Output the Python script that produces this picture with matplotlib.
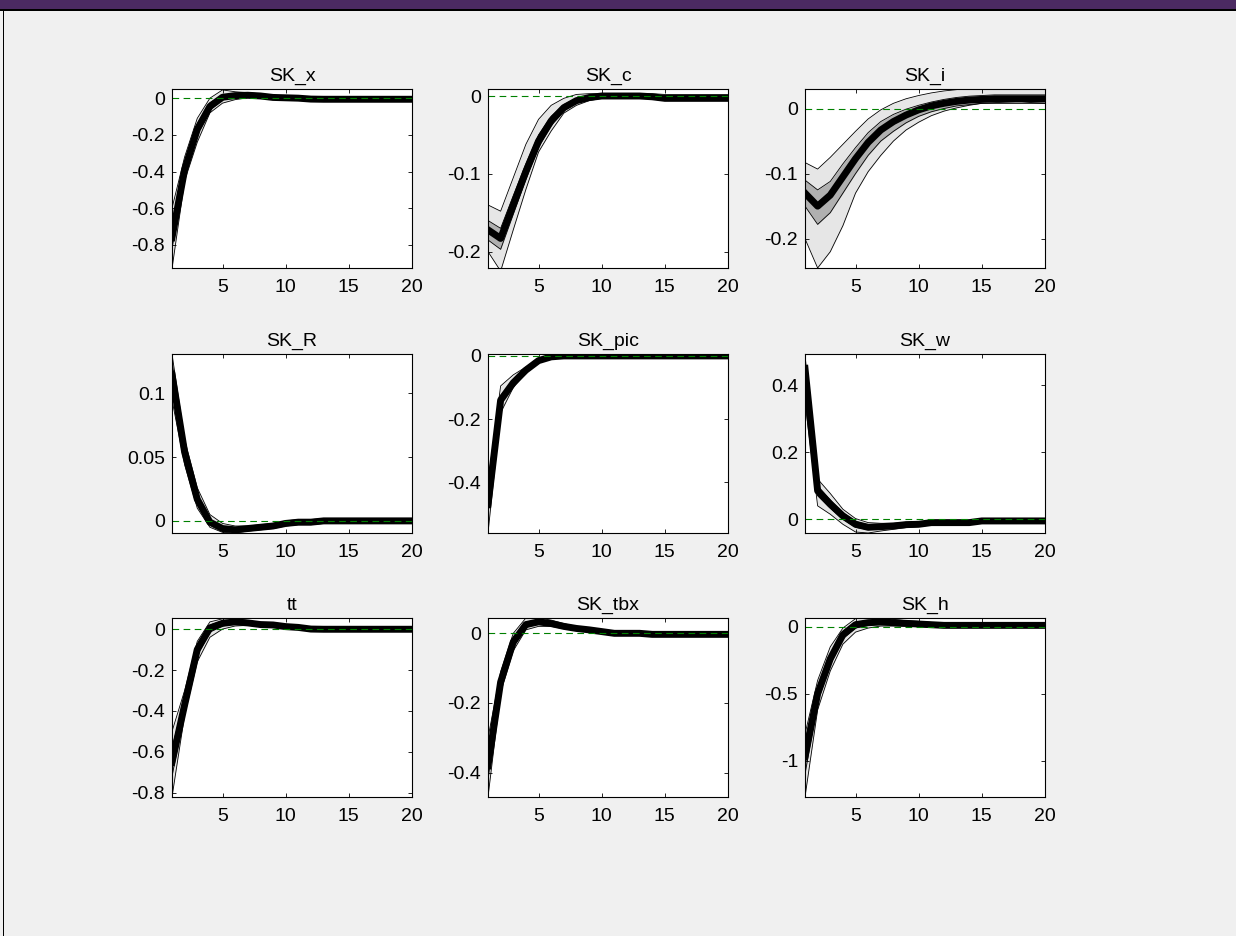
import matplotlib
matplotlib.use("Agg")
import matplotlib.pyplot as plt
import numpy as np

plt.rcParams['font.family'] = ['Liberation Sans', 'DejaVu Sans']
plt.rcParams['axes.unicode_minus'] = False

horizon = np.arange(1, 21)

titles = ["SK_x", "SK_c", "SK_i", "SK_R", "SK_pic", "SK_w", "tt", "SK_tbx", "SK_h"]

# median responses and error bands (inner / outer)
SK_x_med = [-0.76, -0.39, -0.17, -0.045, 0.005, 0.014, 0.016, 0.012, 0.004, 0.002, 0.0, -0.005, -0.006, -0.006, -0.006, -0.006, -0.006, -0.006, -0.006, -0.006]
SK_x_in_lo = [-0.82, -0.43, -0.2, -0.065, -0.008, 0.006, 0.01, 0.007, 0.0, -0.002, -0.004, -0.009, -0.01, -0.01, -0.01, -0.01, -0.01, -0.01, -0.01, -0.01]
SK_x_in_hi = [-0.7, -0.35, -0.14, -0.025, 0.015, 0.02, 0.021, 0.017, 0.008, 0.006, 0.004, -0.001, -0.002, -0.002, -0.002, -0.002, -0.002, -0.002, -0.002, -0.002]
SK_x_out_lo = [-0.93, -0.45, -0.24, -0.08, -0.027, -0.008, 0.002, 0.002, -0.004, -0.006, -0.008, -0.013, -0.014, -0.014, -0.014, -0.014, -0.014, -0.014, -0.014, -0.014]
SK_x_out_hi = [-0.6, -0.32, -0.11, 0.0, 0.045, 0.035, 0.03, 0.024, 0.013, 0.01, 0.008, 0.003, 0.002, 0.002, 0.002, 0.002, 0.002, 0.002, 0.002, 0.002]

SK_c_med = [-0.172, -0.183, -0.14, -0.097, -0.058, -0.032, -0.015, -0.006, -0.002, 0.0, 0.0, 0.0, 0.0, -0.001, -0.003, -0.003, -0.003, -0.003, -0.003, -0.003]
SK_c_in_lo = [-0.185, -0.197, -0.152, -0.107, -0.066, -0.038, -0.019, -0.009, -0.004, -0.002, -0.002, -0.002, -0.002, -0.003, -0.005, -0.005, -0.005, -0.005, -0.005, -0.005]
SK_c_in_hi = [-0.16, -0.17, -0.128, -0.087, -0.05, -0.026, -0.011, -0.003, 0.0, 0.002, 0.002, 0.002, 0.002, 0.001, -0.001, -0.001, -0.001, -0.001, -0.001, -0.001]
SK_c_out_lo = [-0.2, -0.225, -0.172, -0.12, -0.072, -0.045, -0.022, -0.012, -0.006, -0.003, -0.003, -0.003, -0.003, -0.004, -0.006, -0.006, -0.006, -0.006, -0.006, -0.006]
SK_c_out_hi = [-0.14, -0.148, -0.105, -0.062, -0.03, -0.012, -0.003, 0.002, 0.003, 0.003, 0.003, 0.003, 0.003, 0.003, 0.002, 0.002, 0.002, 0.002, 0.002, 0.002]

SK_i_med = [-0.13, -0.15, -0.133, -0.105, -0.077, -0.052, -0.033, -0.02, -0.01, -0.002, 0.004, 0.008, 0.011, 0.013, 0.014, 0.015, 0.015, 0.015, 0.015, 0.015]
SK_i_in_lo = [-0.15, -0.178, -0.16, -0.13, -0.1, -0.072, -0.05, -0.035, -0.022, -0.012, -0.005, 0.0, 0.004, 0.006, 0.008, 0.008, 0.008, 0.008, 0.008, 0.008]
SK_i_in_hi = [-0.11, -0.125, -0.112, -0.085, -0.06, -0.037, -0.02, -0.009, -0.001, 0.005, 0.01, 0.014, 0.017, 0.019, 0.02, 0.021, 0.021, 0.021, 0.021, 0.021]
SK_i_out_lo = [-0.2, -0.245, -0.22, -0.18, -0.13, -0.097, -0.072, -0.05, -0.033, -0.021, -0.011, -0.004, 0.001, 0.005, 0.008, 0.009, 0.01, 0.011, 0.009, 0.008]
SK_i_out_hi = [-0.083, -0.093, -0.075, -0.055, -0.035, -0.016, -0.002, 0.008, 0.015, 0.02, 0.024, 0.027, 0.029, 0.031, 0.032, 0.032, 0.032, 0.032, 0.032, 0.032]

SK_R_med = [0.115, 0.054, 0.017, -0.001, -0.006, -0.007, -0.006, -0.005, -0.004, -0.002, -0.001, -0.001, 0.0, 0.0, 0.0, 0.0, 0.0, 0.0, 0.0, 0.0]
SK_R_in_lo = [0.105, 0.048, 0.013, -0.003, -0.0075, -0.008, -0.007, -0.006, -0.005, -0.003, -0.002, -0.002, -0.001, -0.001, -0.001, -0.001, -0.001, -0.001, -0.001, -0.001]
SK_R_in_hi = [0.125, 0.06, 0.021, 0.001, -0.0045, -0.006, -0.005, -0.004, -0.003, -0.001, 0.0, 0.0, 0.001, 0.001, 0.001, 0.001, 0.001, 0.001, 0.001, 0.001]
SK_R_out_lo = [0.095, 0.044, 0.01, -0.005, -0.009, -0.0095, -0.008, -0.007, -0.006, -0.004, -0.003, -0.003, -0.002, -0.002, -0.002, -0.002, -0.002, -0.002, -0.002, -0.002]
SK_R_out_hi = [0.131, 0.064, 0.026, 0.005, -0.002, -0.004, -0.004, -0.003, -0.002, 0.0, 0.001, 0.001, 0.002, 0.002, 0.002, 0.002, 0.002, 0.002, 0.002, 0.002]

SK_pic_med = [-0.47, -0.14, -0.085, -0.045, -0.015, -0.003, 0.0, 0.0, 0.0, 0.0, 0.0, 0.0, 0.0, 0.0, 0.0, 0.0, 0.0, 0.0, 0.0, 0.0]
SK_pic_in_lo = [-0.5, -0.155, -0.09, -0.05, -0.018, -0.004, -0.001, 0.0, 0.0, 0.0, 0.0, 0.0, 0.0, 0.0, 0.0, 0.0, 0.0, 0.0, 0.0, 0.0]
SK_pic_in_hi = [-0.44, -0.125, -0.078, -0.04, -0.012, -0.002, 0.0, 0.0, 0.0, 0.0, 0.0, 0.0, 0.0, 0.0, 0.0, 0.0, 0.0, 0.0, 0.0, 0.0]
SK_pic_out_lo = [-0.56, -0.18, -0.1, -0.055, -0.022, -0.006, -0.001, 0.0, 0.0, 0.0, 0.0, 0.0, 0.0, 0.0, 0.0, 0.0, 0.0, 0.0, 0.0, 0.0]
SK_pic_out_hi = [-0.4, -0.095, -0.06, -0.035, -0.01, -0.001, 0.0, 0.0, 0.0, 0.0, 0.0, 0.0, 0.0, 0.0, 0.0, 0.0, 0.0, 0.0, 0.0, 0.0]

SK_w_med = [0.45, 0.085, 0.045, 0.01, -0.015, -0.024, -0.022, -0.02, -0.016, -0.015, -0.01, -0.01, -0.01, -0.01, -0.005, -0.005, -0.005, -0.005, -0.005, -0.005]
SK_w_in_lo = [0.41, 0.07, 0.033, 0.0, -0.024, -0.031, -0.028, -0.025, -0.02, -0.019, -0.014, -0.013, -0.013, -0.013, -0.008, -0.008, -0.008, -0.008, -0.008, -0.008]
SK_w_in_hi = [0.48, 0.1, 0.058, 0.02, -0.006, -0.017, -0.016, -0.015, -0.012, -0.011, -0.006, -0.007, -0.007, -0.007, -0.002, -0.002, -0.002, -0.002, -0.002, -0.002]
SK_w_out_lo = [0.35, 0.04, 0.015, -0.015, -0.038, -0.041, -0.035, -0.03, -0.025, -0.022, -0.017, -0.016, -0.016, -0.016, -0.01, -0.01, -0.01, -0.01, -0.01, -0.01]
SK_w_out_hi = [0.49, 0.12, 0.077, 0.03, 0.002, -0.01, -0.012, -0.012, -0.009, -0.008, -0.004, -0.004, -0.004, -0.004, 0.0, 0.0, 0.0, 0.0, 0.0, 0.0]

tt_med = [-0.65, -0.37, -0.1, 0.005, 0.028, 0.035, 0.03, 0.022, 0.02, 0.012, 0.008, 0.0, -0.001, -0.001, -0.001, -0.001, -0.001, -0.001, -0.001, -0.001]
tt_in_lo = [-0.72, -0.4, -0.13, -0.015, 0.015, 0.026, 0.024, 0.017, 0.015, 0.008, 0.004, -0.004, -0.005, -0.005, -0.005, -0.005, -0.005, -0.005, -0.005, -0.005]
tt_in_hi = [-0.58, -0.34, -0.08, 0.02, 0.04, 0.044, 0.036, 0.027, 0.025, 0.016, 0.012, 0.004, 0.003, 0.003, 0.003, 0.003, 0.003, 0.003, 0.003, 0.003]
tt_out_lo = [-0.82, -0.42, -0.16, -0.04, 0.0, 0.015, 0.018, 0.012, 0.01, 0.004, 0.0, -0.008, -0.009, -0.009, -0.009, -0.009, -0.009, -0.009, -0.009, -0.009]
tt_out_hi = [-0.5, -0.3, -0.06, 0.035, 0.05, 0.05, 0.042, 0.032, 0.03, 0.02, 0.016, 0.008, 0.007, 0.007, 0.007, 0.007, 0.007, 0.007, 0.007, 0.007]

SK_tbx_med = [-0.38, -0.14, -0.025, 0.025, 0.033, 0.028, 0.02, 0.014, 0.01, 0.005, 0.0, 0.0, 0.0, -0.003, -0.003, -0.003, -0.003, -0.003, -0.003, -0.003]
SK_tbx_in_lo = [-0.42, -0.155, -0.04, 0.017, 0.027, 0.024, 0.016, 0.011, 0.007, 0.002, -0.003, -0.003, -0.003, -0.006, -0.006, -0.006, -0.006, -0.006, -0.006, -0.006]
SK_tbx_in_hi = [-0.33, -0.125, -0.01, 0.033, 0.038, 0.032, 0.024, 0.017, 0.013, 0.008, 0.003, 0.003, 0.003, 0.0, 0.0, 0.0, 0.0, 0.0, 0.0, 0.0]
SK_tbx_out_lo = [-0.47, -0.17, -0.05, 0.01, 0.02, 0.02, 0.013, 0.008, 0.004, 0.0, -0.005, -0.005, -0.005, -0.008, -0.008, -0.008, -0.008, -0.008, -0.008, -0.008]
SK_tbx_out_hi = [-0.3, -0.11, 0.0, 0.044, 0.044, 0.038, 0.028, 0.02, 0.016, 0.01, 0.005, 0.005, 0.005, 0.002, 0.002, 0.002, 0.002, 0.002, 0.002, 0.002]

SK_h_med = [-0.97, -0.5, -0.24, -0.06, 0.015, 0.03, 0.035, 0.03, 0.025, 0.02, 0.015, 0.01, 0.01, 0.01, 0.01, 0.01, 0.01, 0.01, 0.01, 0.01]
SK_h_in_lo = [-1.1, -0.56, -0.28, -0.09, -0.01, 0.01, 0.02, 0.018, 0.014, 0.01, 0.006, 0.002, 0.002, 0.002, 0.002, 0.002, 0.002, 0.002, 0.002, 0.002]
SK_h_in_hi = [-0.85, -0.45, -0.2, -0.035, 0.035, 0.045, 0.048, 0.042, 0.035, 0.03, 0.024, 0.018, 0.018, 0.018, 0.018, 0.018, 0.018, 0.018, 0.018, 0.018]
SK_h_out_lo = [-1.27, -0.62, -0.33, -0.13, -0.04, -0.01, 0.005, 0.005, 0.003, 0.0, -0.003, -0.005, -0.005, -0.005, -0.005, -0.005, -0.005, -0.005, -0.005, -0.005]
SK_h_out_hi = [-0.8, -0.4, -0.15, -0.01, 0.06, 0.065, 0.065, 0.055, 0.045, 0.04, 0.032, 0.025, 0.025, 0.025, 0.025, 0.025, 0.025, 0.025, 0.025, 0.025]

y_limits = [(-0.926, 0.05), (-0.221, 0.009), (-0.245, 0.03),
            (-0.0095, 0.131), (-0.56, 0.006), (-0.041, 0.493),
            (-0.82, 0.054), (-0.47, 0.044), (-1.27, 0.065)]
y_ticks = [[-0.8, -0.6, -0.4, -0.2, 0], [-0.2, -0.1, 0], [-0.2, -0.1, 0],
           [0, 0.05, 0.1], [-0.4, -0.2, 0], [0, 0.2, 0.4],
           [-0.8, -0.6, -0.4, -0.2, 0], [-0.4, -0.2, 0], [-1, -0.5, 0]]

panels = [
    (SK_x_med, SK_x_in_lo, SK_x_in_hi, SK_x_out_lo, SK_x_out_hi),
    (SK_c_med, SK_c_in_lo, SK_c_in_hi, SK_c_out_lo, SK_c_out_hi),
    (SK_i_med, SK_i_in_lo, SK_i_in_hi, SK_i_out_lo, SK_i_out_hi),
    (SK_R_med, SK_R_in_lo, SK_R_in_hi, SK_R_out_lo, SK_R_out_hi),
    (SK_pic_med, SK_pic_in_lo, SK_pic_in_hi, SK_pic_out_lo, SK_pic_out_hi),
    (SK_w_med, SK_w_in_lo, SK_w_in_hi, SK_w_out_lo, SK_w_out_hi),
    (tt_med, tt_in_lo, tt_in_hi, tt_out_lo, tt_out_hi),
    (SK_tbx_med, SK_tbx_in_lo, SK_tbx_in_hi, SK_tbx_out_lo, SK_tbx_out_hi),
    (SK_h_med, SK_h_in_lo, SK_h_in_hi, SK_h_out_lo, SK_h_out_hi),
]

W, H = 1236, 936
fig = plt.figure(figsize=(W / 100, H / 100), dpi=100, facecolor='#f0f0f0')

# window chrome: purple title bar strip and black frame lines
fig.patches.append(plt.Rectangle((0, 1 - 9 / H), 1, 9 / H, transform=fig.transFigure,
                                 facecolor='#4b2a62', edgecolor='none'))
fig.patches.append(plt.Rectangle((0, 1 - 11 / H), 1, 2 / H, transform=fig.transFigure,
                                 facecolor='black', edgecolor='none'))
fig.patches.append(plt.Rectangle((3 / W, 0), 1.5 / W, 1 - 11 / H, transform=fig.transFigure,
                                 facecolor='black', edgecolor='none'))

col_left = [172, 488, 805]
row_top = [89, 354, 618]
ax_w, ax_h = 240, 179

for k, (name, data) in enumerate(zip(titles, panels)):
    med, in_lo, in_hi, out_lo, out_hi = data
    r, c = divmod(k, 3)
    ax = fig.add_axes([col_left[c] / W, 1 - (row_top[r] + ax_h) / H, ax_w / W, ax_h / H])
    ax.set_facecolor('white')

    ax.fill_between(horizon, out_lo, out_hi, color='#e6e6e6', lw=0)
    ax.fill_between(horizon, in_lo, in_hi, color='#b0b0b0', lw=0)
    for edge in (out_lo, out_hi, in_lo, in_hi):
        ax.plot(horizon, edge, color='black', lw=0.6)
    ax.plot(horizon, med, color='black', lw=5, solid_joinstyle='round')
    ax.axhline(0, color='#008000', lw=0.8, ls=(0, (6, 4)))

    ax.set_xlim(1, 20)
    ax.set_ylim(*y_limits[k])
    ax.set_xticks([5, 10, 15, 20])
    ax.set_yticks(y_ticks[k])
    ax.set_yticklabels(['%g' % v for v in y_ticks[k]])
    ax.tick_params(direction='in', top=True, right=True, length=3, width=0.6,
                   labelsize=14, colors='black')
    ax.tick_params(axis='x', pad=8)
    ax.tick_params(axis='y', pad=5)
    for sp in ax.spines.values():
        sp.set_linewidth(0.8)
    ax.set_title(name, fontsize=14, pad=6)

fig.savefig('out.png', dpi=100, facecolor=fig.get_facecolor())
